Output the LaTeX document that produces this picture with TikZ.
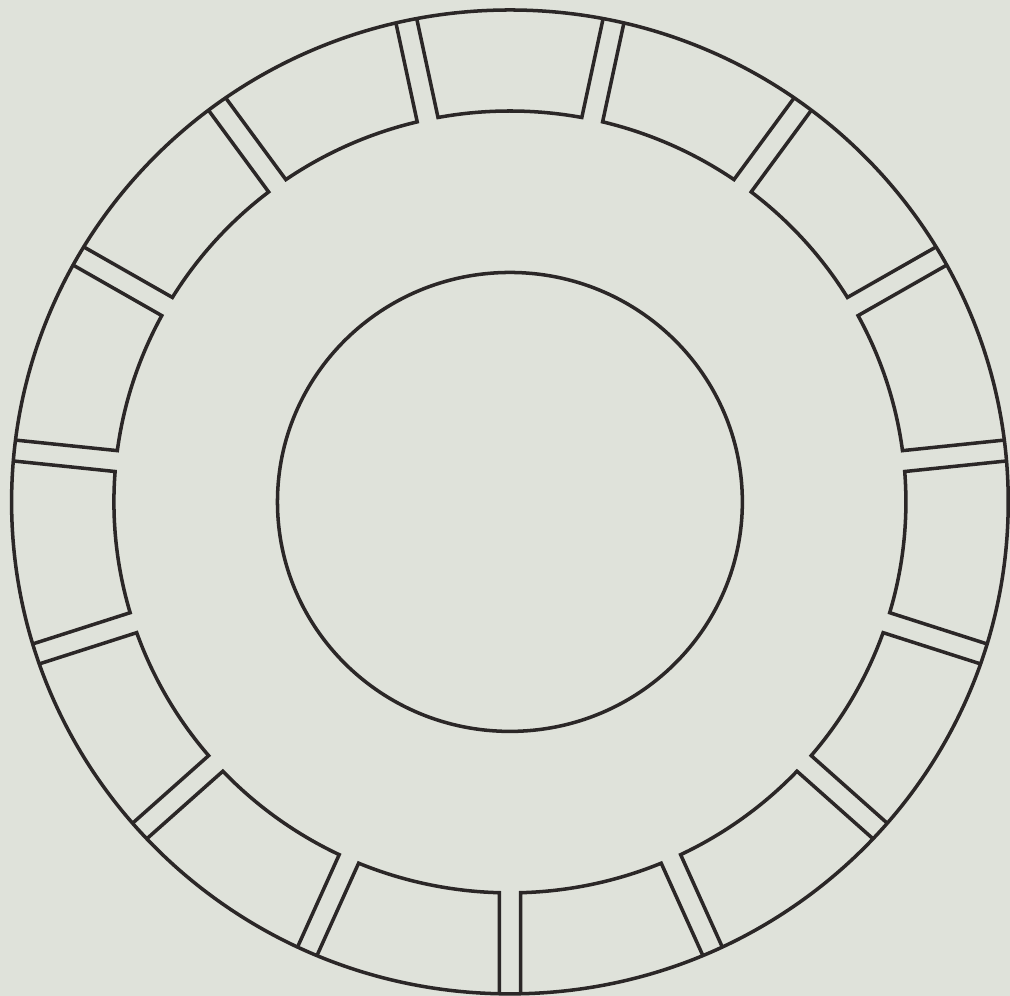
\documentclass[tikz,border=0pt]{standalone}
\usepackage{xcolor}
\definecolor{InkGray}{HTML}{2B2727}
\definecolor{PaperGray}{HTML}{DFE2DA}
\usepackage{tikz}
\usetikzlibrary{calc}

\begin{document}
\begin{tikzpicture}[x=0.1013mm, y=0.1mm, line width=1pt, color=InkGray]
  \fill[PaperGray] (-503.45,-494) rectangle (493.6,502);
  \draw (0,0) circle[radius=492];
  \draw (0,0) circle[radius=229.5];
  \foreach \k in {0,...,14}{
    \pgfmathsetmacro{\ta}{78+24*\k+asin(10.5/492)}
    \pgfmathsetmacro{\tb}{78+24*\k+asin(10.5/391)}
    \pgfmathsetmacro{\tc}{102+24*\k-asin(10.5/391)}
    \pgfmathsetmacro{\td}{102+24*\k-asin(10.5/492)}
    \draw (\ta:492) -- (\tb:391) arc[start angle=\tb, end angle=\tc, radius=391] -- (\td:492);
  }
\end{tikzpicture}
\end{document}
